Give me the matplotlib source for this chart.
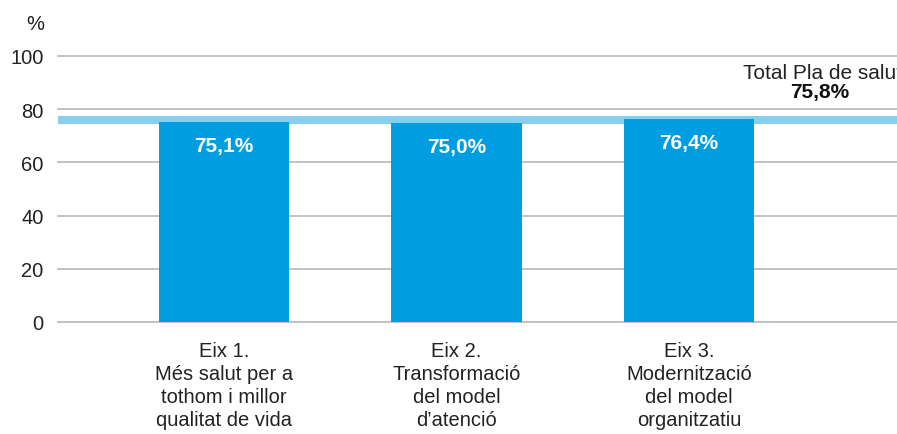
import matplotlib.pyplot as plt

categories = [
    "Eix 1.\nMés salut per a\ntothom i millor\nqualitat de vida",
    "Eix 2.\nTransformació\ndel model\nd’atenció",
    "Eix 3.\nModernització\ndel model\norganitzatiu",
]
values = [75.1, 75.0, 76.4]
value_labels = ["75,1%", "75,0%", "76,4%"]
total_value = 75.8
total_label = "75,8%"
total_title = "Total Pla de salut"
y_ticks = [0, 20, 40, 60, 80, 100]

plt.rcParams['font.family'] = ['Liberation Sans', 'DejaVu Sans']

W, H = 897, 435
fig = plt.figure(figsize=(W / 100, H / 100), dpi=100)
y0px, y100px = 323, 57
ax = fig.add_axes([58 / W, (H - y0px) / H, 1 - 58 / W, (y0px - y100px) / H])

bar_color = "#009ee0"
line_color = "#86cfee"
text_color = "#222222"

x = list(range(len(categories)))
ax.bar(x, values, width=0.56, color=bar_color, zorder=3)
ax.axhline(total_value, color=line_color, lw=5.8, zorder=2)

for xi, v, lab in zip(x, values, value_labels):
    ax.annotate(lab, (xi, v), xytext=(0, -17), textcoords="offset points",
                ha="center", va="center", color="white", fontsize=15,
                fontweight="bold", zorder=4)

ax.set_xlim(-0.714, 2.895)
ax.set_ylim(0, 100)
ax.set_yticks(y_ticks)
ax.set_yticklabels([str(t) for t in y_ticks], fontsize=14.5, color=text_color)
ax.set_xticks(x)
ax.set_xticklabels(categories, fontsize=14.5, color=text_color, linespacing=1.28)
ax.tick_params(axis="both", length=0)
ax.tick_params(axis="y", pad=10.5)
ax.tick_params(axis="x", pad=13.5)

ax.yaxis.grid(True, color="#bdbdbd", lw=1.3, zorder=0)
for gl in ax.get_ygridlines():
    gl.set_clip_on(False)
ax.set_axisbelow(True)
for s in ax.spines.values():
    s.set_visible(False)

# the total caption runs past the right edge of the figure
ax.text(2.575, 93.7, total_title, ha="center", va="center", fontsize=15,
        color=text_color, clip_on=False)
ax.text(2.562, 86.5, total_label, ha="center", va="center", fontsize=15,
        fontweight="bold", color="#111111", clip_on=False)

fig.text(44 / W, 1 - 24.5 / H, "%", ha="right", va="center", fontsize=14.5,
         color=text_color)

fig.savefig("out.png", dpi=100)
